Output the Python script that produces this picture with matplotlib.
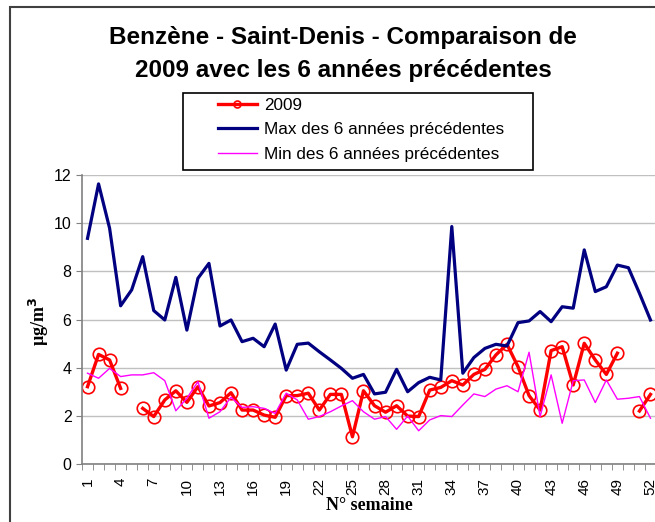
import numpy as np
import matplotlib
matplotlib.use("Agg")
from matplotlib import pyplot as plt
from matplotlib.patches import Rectangle

nan = np.nan

weeks = list(range(1, 53))

# 2009 (gaps = no measurement)
y2009 = [3.21, 4.55, 4.32, 3.14, nan, 2.31, 1.97, 2.66, 3.04, 2.56,
         3.21, 2.41, 2.55, 2.96, 2.24, 2.24, 2.03, 1.94, 2.84, 2.84,
         2.94, 2.24, 2.89, 2.89, 1.13, 3.04, 2.42, 2.15, 2.42, 1.99,
         1.97, 3.07, 3.18, 3.46, 3.28, 3.72, 3.93, 4.53, 4.97, 4.04,
         2.84, 2.24, 4.71, 4.87, 3.28, 5.01, 4.32, 3.72, 4.60, nan,
         2.20, 2.89]

max_prev = [9.37, 11.63, 9.79, 6.57, 7.23, 8.61, 6.37, 5.98, 7.75, 5.56,
            7.71, 8.33, 5.73, 5.98, 5.08, 5.22, 4.87, 5.81, 3.90, 4.97,
            5.02, 4.66, 4.32, 3.97, 3.56, 3.72, 2.91, 2.98, 3.93, 3.00,
            3.38, 3.60, 3.49, 9.86, 3.77, 4.42, 4.80, 4.97, 4.90, 5.87,
            5.94, 6.33, 5.91, 6.53, 6.47, 8.89, 7.16, 7.36, 8.26, 8.15,
            7.09, 5.98]

min_prev = [3.77, 3.56, 3.97, 3.63, 3.70, 3.70, 3.79, 3.46, 2.21, 2.73,
            3.42, 1.90, 2.17, 2.77, 2.35, 2.38, 2.31, 2.10, 2.94, 2.66,
            1.86, 1.97, 2.17, 2.41, 2.63, 2.17, 1.86, 1.97, 1.44, 1.99,
            1.38, 1.83, 2.01, 1.97, 2.45, 2.91, 2.80, 3.11, 3.25, 3.00,
            4.64, 1.97, 3.70, 1.69, 3.46, 3.49, 2.55, 3.49, 2.69, 2.73,
            2.80, 1.90]

labels = ["2009", "Max des 6 années précédentes", "Min des 6 années précédentes"]
title = "Benzène - Saint-Denis - Comparaison de\n2009 avec les 6 années précédentes"

W, H = 655, 522
fig = plt.figure(figsize=(W / 100, H / 100), dpi=100)

# outer chart border (right/bottom edges fall outside the picture)
fig.patches.append(Rectangle((9.5 / W, -0.1), 1.0, 1.1 - 6.5 / H,
                             transform=fig.transFigure, fill=False,
                             edgecolor="#404040", linewidth=1.5))

# plot area in pixels: left 82, right 656, top 175, bottom 464
ax = fig.add_axes([82 / W, (H - 464) / H, (656 - 82) / W, (464 - 175) / H])

ax.plot(weeks, y2009, color="#ff0000", lw=2.4, marker="o", ms=9,
        mfc="none", mec="#ff0000", mew=1.2, label=labels[0])
ax.plot(weeks, max_prev, color="#000080", lw=2.3, label=labels[1])
ax.plot(weeks, min_prev, color="#ff00ff", lw=1.0, label=labels[2])

ax.set_xlim(0.5, 52.5)
ax.set_ylim(0, 12)
ax.set_yticks(range(0, 13, 2))
ax.set_xticks(weeks[::3])
ax.set_xticks(np.arange(0.5, 53, 1), minor=True)
ax.tick_params(axis="x", which="major", length=0, pad=10, labelrotation=90,
               labelsize=11)
ax.tick_params(axis="x", which="minor", length=4, color="#808080")
ax.tick_params(axis="y", length=4, color="#808080", labelsize=11.5)
for lab in ax.get_xticklabels() + ax.get_yticklabels():
    lab.set_family("Liberation Sans")

ax.grid(axis="y", color="#c0c0c0", lw=1)
ax.set_axisbelow(True)
for s in ["top", "right"]:
    ax.spines[s].set_visible(False)
for s in ["left", "bottom"]:
    ax.spines[s].set_color("#808080")
    ax.spines[s].set_linewidth(1.2)

fig.text(369 / W, 1 - 505 / H, "N° semaine", family="Liberation Serif",
         weight="bold", fontsize=13, ha="center", va="center")
fig.text(39 / W, 1 - 321 / H, "µg/m$^\\mathbf{3}$", family="Liberation Serif",
         weight="bold", fontsize=13, rotation=90, ha="center", va="center")

fig.text(343 / W, 1 - 54 / H, title, family="Liberation Sans", weight="bold",
         fontsize=17.5, ha="center", va="center", linespacing=1.52)

# legend box
fig.patches.append(Rectangle((183 / W, 1 - 169.5 / H), 350 / W, 76.5 / H,
                             transform=fig.transFigure, fill=False,
                             edgecolor="black", linewidth=1.2))
leg = fig.legend(loc="upper left", bbox_to_anchor=(209 / W, 1 - 89 / H),
                 frameon=False, borderpad=0, handlelength=2.3,
                 handletextpad=0.4, labelspacing=0.58,
                 prop={"family": "Liberation Sans", "size": 12.3})
leg.legend_handles[0].set_markersize(5)

fig.savefig("out.png", dpi=100)
